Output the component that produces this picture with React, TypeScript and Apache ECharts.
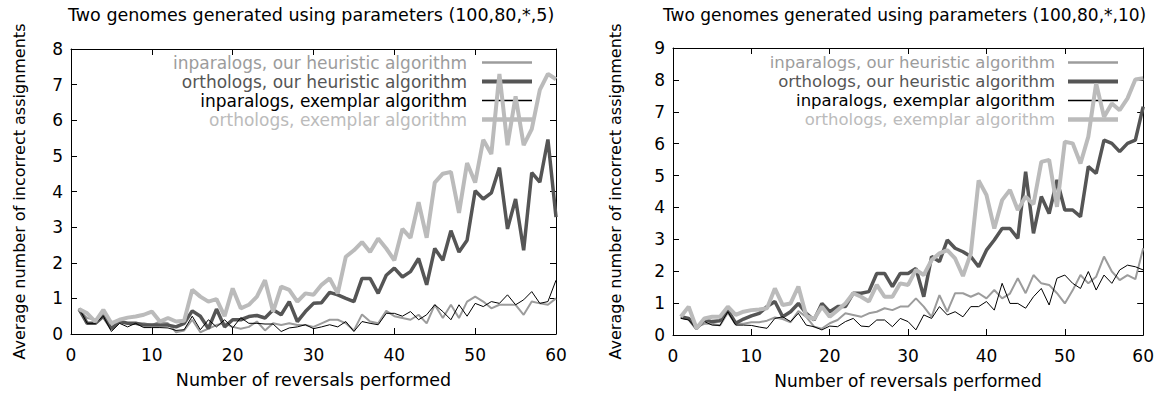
import React, { useEffect, useRef } from "react";
import * as echarts from "echarts";

// ---------- data ----------
const reversals = [
  1, 2, 3, 4, 5, 6, 7, 8, 9, 10, 11, 12, 13, 14, 15, 16, 17, 18, 19, 20,
  21, 22, 23, 24, 25, 26, 27, 28, 29, 30, 31, 32, 33, 34, 35, 36, 37, 38, 39, 40,
  41, 42, 43, 44, 45, 46, 47, 48, 49, 50, 51, 52, 53, 54, 55, 56, 57, 58, 59, 60,
];

const xTicks = [0, 10, 20, 30, 40, 50, 60];
const leftYTicks = [0, 1, 2, 3, 4, 5, 6, 7, 8];
const rightYTicks = [0, 1, 2, 3, 4, 5, 6, 7, 8, 9];

const seriesNames = [
  "inparalogs, our heuristic algorithm",
  "orthologs, our heuristic algorithm",
  "inparalogs, exemplar algorithm",
  "orthologs, exemplar algorithm",
];

const panelTitles = [
  "Two genomes generated using parameters (100,80,*,5)",
  "Two genomes generated using parameters (100,80,*,10)",
];

const xAxisName = "Number of reversals performed";
const yAxisName = "Average number of incorrect assignments";

// left panel (100,80,*,5)
const leftInparHeur = [
  0.65, 0.45, 0.4, 0.6, 0.15, 0.35, 0.3, 0.3, 0.3, 0.25,
  0.35, 0.3, 0.05, 0.1, 0.4, 0.05, 0.15, 0.25, 0.3, 0.2,
  0.15, 0.2, 0.35, 0.1, 0.3, 0.25, 0.3, 0.25, 0.25, 0.2,
  0.3, 0.4, 0.4, 0.3, 0.1, 0.55, 0.35, 0.3, 0.65, 0.5,
  0.45, 0.4, 0.54, 0.3, 0.82, 0.45, 0.82, 0.45, 0.91, 1.05,
  0.91, 0.72, 0.82, 0.82, 0.82, 0.54, 0.91, 0.86, 0.82, 1.0,
];
const leftOrthHeur = [
  0.7, 0.3, 0.3, 0.5, 0.15, 0.35, 0.3, 0.3, 0.25, 0.25,
  0.25, 0.25, 0.2, 0.3, 0.65, 0.5, 0.15, 0.7, 0.2, 0.4,
  0.4, 0.49, 0.52, 0.45, 0.68, 0.54, 0.91, 0.35, 0.63, 0.86,
  0.88, 1.17, 1.1, 1.0, 0.91, 1.56, 1.56, 1.14, 1.65, 1.85,
  1.6, 1.75, 2.12, 1.38, 2.4, 2.07, 2.9, 2.3, 2.63, 4.02,
  3.79, 3.96, 4.67, 2.95, 3.79, 2.35, 4.53, 4.26, 5.46, 3.28,
];
const leftInparExem = [
  0.72, 0.3, 0.3, 0.5, 0.07, 0.3, 0.2, 0.3, 0.18, 0.18,
  0.18, 0.17, 0.1, 0.12, 0.5, 0.12, 0.4, 0.2, 0.4, 0.17,
  0.46, 0.3, 0.3, 0.28, 0.28, 0.07, 0.17, 0.2, 0.26, 0.15,
  0.2, 0.26, 0.2, 0.35, 0.07, 0.35, 0.3, 0.26, 0.58, 0.58,
  0.5, 0.63, 0.4, 0.54, 0.82, 0.63, 0.4, 0.82, 0.5, 0.86,
  0.77, 0.91, 0.86, 1.1, 0.82, 0.96, 1.19, 0.86, 0.91, 1.51,
];
const leftOrthExem = [
  0.7, 0.58, 0.35, 0.68, 0.3, 0.4, 0.46, 0.49, 0.54, 0.63,
  0.35, 0.45, 0.35, 0.37, 1.24, 1.05, 0.91, 0.98, 0.5, 1.28,
  0.72, 0.82, 1.05, 1.51, 0.63, 1.33, 1.24, 0.91, 1.14, 1.1,
  1.38, 1.56, 1.14, 2.17, 2.35, 2.58, 2.3, 2.68, 2.4, 2.07,
  2.95, 2.7, 3.7, 2.7, 4.25, 4.5, 4.55, 3.4, 4.8, 4.25,
  5.45, 5.05, 7.3, 5.3, 6.67, 5.3, 5.75, 6.85, 7.3, 7.15,
];

// right panel (100,80,*,10)
const rightInparHeur = [
  0.55, 0.5, 0.25, 0.35, 0.35, 0.3, 0.7, 0.35, 0.35, 0.4,
  0.4, 0.45, 0.55, 0.5, 0.4, 0.75, 0.57, 0.26, 0.2, 0.37,
  0.47, 0.68, 0.63, 0.57, 0.68, 0.73, 0.84, 0.78, 0.89, 0.89,
  1.15, 0.89, 0.57, 1.25, 0.73, 1.31, 1.31, 1.2, 1.31, 1.15,
  1.41, 1.15, 1.3, 1.78, 1.31, 1.88, 1.62, 1.57, 1.31, 0.99,
  1.4, 1.88, 1.62, 1.83, 2.46, 1.99, 1.72, 1.88, 1.75, 2.72,
];
const rightOrthHeur = [
  0.57, 0.52, 0.21, 0.47, 0.42, 0.45, 0.78, 0.37, 0.5, 0.6,
  0.68, 0.89, 1.05, 0.57, 0.73, 0.99, 0.68, 0.47, 0.99, 0.73,
  0.89, 0.89, 1.31, 1.31, 1.36, 1.93, 1.93, 1.52, 1.93, 1.93,
  2.09, 1.2, 2.46, 2.3, 2.98, 2.72, 2.61, 2.46, 2.14, 2.66,
  2.98, 3.34, 3.34, 3.03, 5.12, 3.19, 4.34, 3.81, 4.86, 3.92,
  3.92, 3.71, 5.28, 5.07, 6.11, 6.01, 5.75, 6.01, 6.11, 7.16,
];
const rightInparExem = [
  0.52, 0.47, 0.21, 0.42, 0.31, 0.3, 0.73, 0.31, 0.31, 0.3,
  0.25, 0.21, 0.52, 0.57, 0.42, 0.68, 0.31, 0.26, 0.16, 0.28,
  0.26, 0.42, 0.52, 0.28, 0.26, 0.47, 0.47, 0.26, 0.52, 0.42,
  0.16, 0.63, 0.52, 0.89, 0.63, 0.73, 0.57, 0.89, 0.89, 1.05,
  0.78, 1.62, 0.99, 0.99, 0.84, 1.2, 1.46, 0.94, 1.78, 1.88,
  1.62, 1.46, 1.99, 1.41, 1.88, 1.62, 2.04, 2.19, 2.14, 2.04,
];
const rightOrthExem = [
  0.57, 0.89, 0.21, 0.52, 0.57, 0.57, 0.89, 0.63, 0.73, 0.78,
  0.8, 0.84, 1.46, 0.94, 0.99, 1.52, 0.6, 0.5, 0.89, 0.57,
  0.78, 0.99, 1.31, 1.2, 1.05, 1.57, 1.2, 1.2, 1.62, 1.57,
  2.04, 1.88, 2.35, 2.56, 2.66, 2.4, 1.85, 2.55, 4.85, 4.39,
  3.34, 4.23, 4.55, 3.92, 4.34, 4.1, 5.43, 5.49, 4.02, 6.06,
  6.01, 5.38, 6.22, 7.89, 6.84, 7.26, 7.05, 7.42, 8.01, 8.05,
];

// ---------- styles ----------
const FONT = "'DejaVu Sans', sans-serif";
const seriesColors = ["#9c9c9c", "#555555", "#000000", "#bbbbbb"];
const seriesWidths = [2, 3.5, 1, 4];
const legendIconHeights = [2.5, 4, 1.5, 4.5];

const panelLayout = [
  {
    grid: { left: 71, top: 49, width: 485, height: 287 },
    titleLeft: 68, titleSize: 17.5, legendRight: 625, legendSize: 17, legendPad: 10,
    yNameGap: 44, xNameSize: 17.5,
  },
  {
    grid: { left: 673, top: 48, width: 471, height: 287 },
    titleLeft: 663, titleSize: 17, legendRight: 39, legendSize: 16.5, legendPad: 8,
    yNameGap: 50, xNameSize: 17,
  },
];

const panelData = [
  { yTicks: leftYTicks, values: [leftInparHeur, leftOrthHeur, leftInparExem, leftOrthExem] },
  { yTicks: rightYTicks, values: [rightInparHeur, rightOrthHeur, rightInparExem, rightOrthExem] },
];

const baseText = { color: "#000", fontFamily: FONT };

function buildOption() {
  const grid: any[] = [];
  const xAxis: any[] = [];
  const yAxis: any[] = [];
  const title: any[] = [];
  const legend: any[] = [];
  const series: any[] = [];

  panelData.forEach((panel, p) => {
    const layout = panelLayout[p];
    grid.push({ ...layout.grid, containLabel: false });
    const xMin = xTicks[0];
    const xMax = xTicks[xTicks.length - 1];
    const xInt = xTicks[1] - xTicks[0];
    const yMin = panel.yTicks[0];
    const yMax = panel.yTicks[panel.yTicks.length - 1];
    const yInt = panel.yTicks[1] - panel.yTicks[0];
    const axisLine = { show: true, onZero: false, lineStyle: { color: "#000", width: 1 } };
    const axisTick = { show: true, inside: true, length: 6, lineStyle: { color: "#000", width: 1 } };

    xAxis.push({
      gridIndex: p, type: "value", position: "bottom", min: xMin, max: xMax, interval: xInt,
      axisLine, axisTick, splitLine: { show: false },
      axisLabel: { ...baseText, fontSize: 17, margin: 12 },
      name: xAxisName, nameLocation: "middle", nameGap: 37,
      nameTextStyle: { ...baseText, fontSize: layout.xNameSize },
    });
    xAxis.push({
      gridIndex: p, type: "value", position: "top", min: xMin, max: xMax, interval: xInt,
      axisLine, axisTick, splitLine: { show: false }, axisLabel: { show: false },
    });
    yAxis.push({
      gridIndex: p, type: "value", position: "left", min: yMin, max: yMax, interval: yInt,
      axisLine, axisTick, splitLine: { show: false },
      axisLabel: { ...baseText, fontSize: 17, margin: 8 },
      name: yAxisName, nameLocation: "middle", nameGap: layout.yNameGap,
      nameTextStyle: { ...baseText, fontSize: 16 },
    });
    yAxis.push({
      gridIndex: p, type: "value", position: "right", min: yMin, max: yMax, interval: yInt,
      axisLine, axisTick, splitLine: { show: false }, axisLabel: { show: false },
    });

    title.push({
      text: panelTitles[p], left: layout.titleLeft, top: 6, padding: 0,
      textStyle: { ...baseText, fontSize: layout.titleSize, fontWeight: "normal" },
    });

    legend.push({
      orient: "vertical", right: layout.legendRight, top: 54, padding: 0,
      align: "right", itemWidth: 50, itemHeight: 14, itemGap: 2,
      selectedMode: false,
      itemStyle: { borderWidth: 0 },
      textStyle: { fontSize: layout.legendSize, fontFamily: FONT, padding: [0, layout.legendPad, 0, 0] },
      data: seriesNames.map((name, i) => ({
        name,
        icon: `path://M0,0H50V${legendIconHeights[i]}H0Z`,
        textStyle: {
          color: seriesColors[i], fontSize: layout.legendSize, fontFamily: FONT,
          padding: [0, layout.legendPad, 0, 0],
        },
      })),
    });

    panel.values.forEach((vals, i) => {
      series.push({
        type: "line",
        name: seriesNames[i],
        xAxisIndex: p * 2,
        yAxisIndex: p * 2,
        data: reversals.map((x, k) => [x, vals[k]]),
        showSymbol: false,
        symbol: "none",
        color: seriesColors[i],
        lineStyle: { color: seriesColors[i], width: seriesWidths[i] },
        itemStyle: { color: seriesColors[i] },
        z: 2 + i,
      });
    });
  });

  return { animation: false, backgroundColor: "#fff", grid, xAxis, yAxis, title, legend, series };
}

export default function App() {
  const ref = useRef<HTMLDivElement>(null);
  useEffect(() => {
    if (!ref.current) return;
    const chart = echarts.init(ref.current, undefined, { renderer: "svg" });
    chart.setOption(buildOption() as any);
    return () => chart.dispose();
  }, []);
  return (
    <div
      ref={ref}
      style={{ position: "absolute", left: 0, top: 0, width: 1157, height: 394, background: "#fff" }}
    />
  );
}
